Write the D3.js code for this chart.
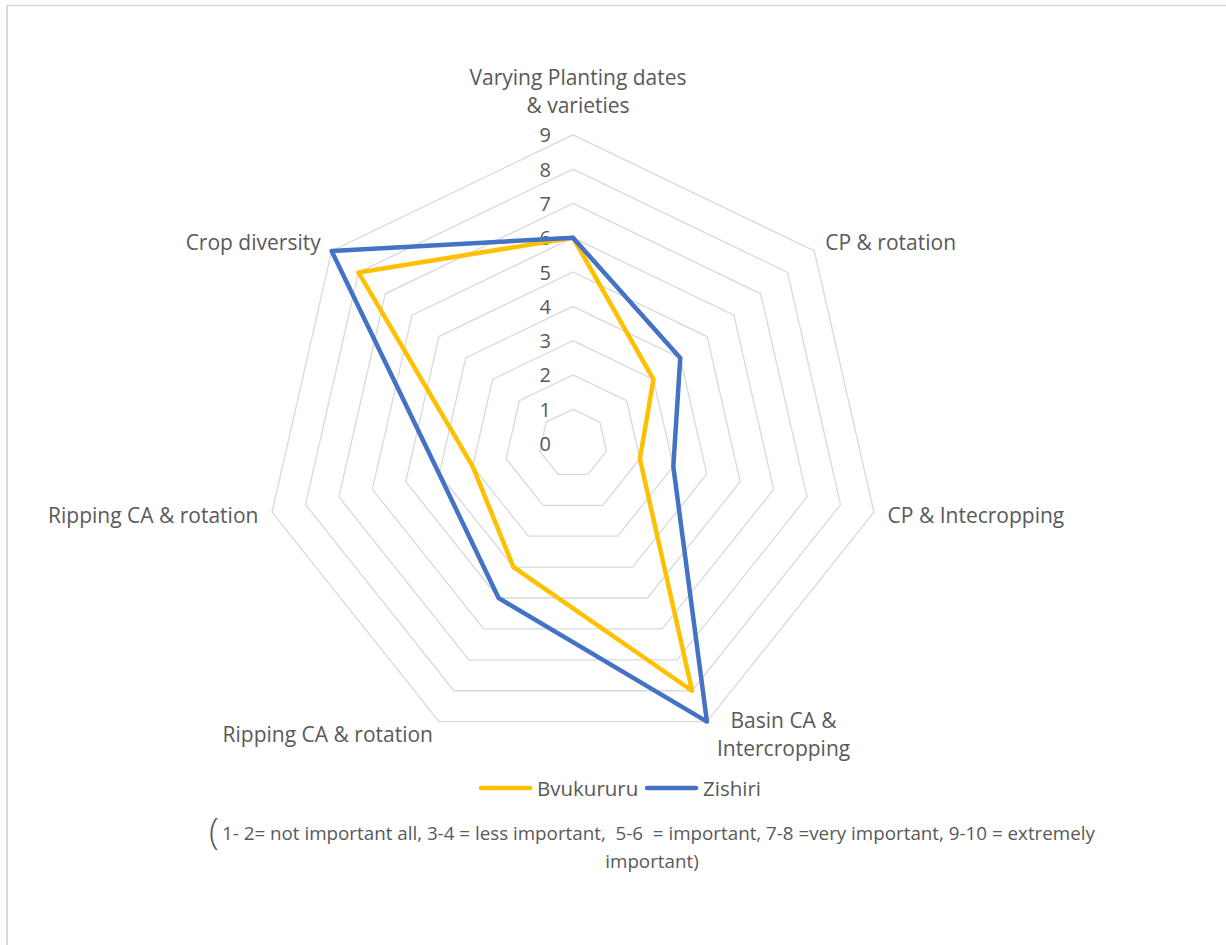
<!DOCTYPE html>
<html>
<head>
<meta charset="utf-8">
<script src="https://cdn.jsdelivr.net/npm/d3@7"></script>
<style>
  html, body { margin: 0; padding: 0; background: #fff; }
  svg text { font-family: "Open Sans", Lato, sans-serif; fill: #595959; white-space: pre; }
</style>
</head>
<body>
<svg id="chart" width="1226" height="945"></svg>
<script>
const categories = [
  ["Varying Planting dates", "& varieties"],
  ["CP & rotation"],
  ["CP & Intecropping"],
  ["Basin CA &", "Intercropping"],
  ["Ripping CA & rotation"],
  ["Ripping CA & rotation"],
  ["Crop diversity"]
];
const seriesNames = ["Bvukururu", "Zishiri"];
const bvukururu = [6, 3, 2, 8, 4, 3, 8];
const zishiri   = [6, 4, 3, 9, 5, 4, 9];
const tickValues = [0, 1, 2, 3, 4, 5, 6, 7, 8, 9];
const colors = ["#FFC000", "#4472C4"];
const footnote1 = "1- 2= not important all, 3-4 = less important,  5-6  = important, 7-8 =very important, 9-10 = extremely";
const footnote2 = "important)";

const labelSize = "21px", legendSize = "20.5px", footSize = "18.8px";

const svg = d3.select("#chart");
const cx = 573, cy = 443.5, R = 308.7;
const n = categories.length;
const r = d3.scaleLinear().domain([0, 9]).range([0, R]);
const angle = d3.scaleLinear().domain([0, n]).range([0, 2 * Math.PI]);

// frame
svg.append("line").attr("x1", 6).attr("x2", 1226).attr("y1", 5.5).attr("y2", 5.5)
  .attr("stroke", "#d9d9d9").attr("stroke-width", 1.5);
svg.append("line").attr("x1", 7).attr("x2", 7).attr("y1", 5).attr("y2", 945)
  .attr("stroke", "#d9d9d9").attr("stroke-width", 2);

const g = svg.append("g").attr("transform", `translate(${cx},${cy})`);

const pt = (v, i) => [r(v) * Math.sin(angle(i)), -r(v) * Math.cos(angle(i))];

// grid rings
const ringLine = d3.lineRadial().angle((d, i) => angle(i)).radius(d => r(d)).curve(d3.curveLinearClosed);
g.selectAll("path.ring").data(tickValues.filter(v => v > 0)).join("path")
  .attr("class", "ring")
  .attr("d", v => ringLine(d3.range(n).map(() => v)))
  .attr("fill", "none").attr("stroke", "#d9d9d9").attr("stroke-width", 1.3);

// tick labels
g.selectAll("text.tick").data(tickValues).join("text")
  .attr("class", "tick")
  .attr("x", -22).attr("y", v => -r(v))
  .attr("text-anchor", "end").attr("dominant-baseline", "central")
  .style("font-size", "20px")
  .text(v => v);

// series
const seriesLine = d3.lineRadial().angle((d, i) => angle(i)).radius(d => r(d)).curve(d3.curveLinearClosed);
[bvukururu, zishiri].forEach((s, k) => {
  g.append("path").attr("d", seriesLine(s))
    .attr("fill", "none").attr("stroke", colors[k]).attr("stroke-width", 4.5)
    .attr("stroke-linejoin", "round");
});

// category labels
const pad = 14, lh = 28;
categories.forEach((lines, i) => {
  const a = angle(i), s = Math.sin(a), c = Math.cos(a);
  const [vx, vy] = pt(9, i);
  const ax = vx + pad * s, ay = vy - pad * c;
  const t = g.append("text").style("font-size", labelSize);
  if (Math.abs(s) < 0.1) {
    lines.forEach((l, j) => {
      t.append("tspan").attr("x", ax + 5).attr("y", ay - 2 - (lines.length - 1 - j) * lh - 14)
        .attr("text-anchor", "middle").attr("dominant-baseline", "central").text(l);
    });
  } else if (lines.length > 1) {
    const tmp = lines.map(l => {
      const tt = g.append("text").style("font-size", labelSize).text(l);
      const w = tt.node().getComputedTextLength(); tt.remove(); return w;
    });
    const bw = d3.max(tmp);
    const bx = s > 0 ? ax + 4 : ax - 4 - bw;
    lines.forEach((l, j) => {
      t.append("tspan").attr("x", bx + bw / 2).attr("y", ay + (j - (lines.length - 1) / 2) * lh)
        .attr("text-anchor", "middle").attr("dominant-baseline", "central").text(l);
    });
  } else {
    t.append("tspan").attr("x", ax).attr("y", ay)
      .attr("text-anchor", s > 0 ? "start" : "end").attr("dominant-baseline", "central").text(lines[0]);
  }
});

// legend
const legend = svg.append("g").attr("transform", "translate(0,788)");
const legX = [479, 645];
seriesNames.forEach((name, k) => {
  legend.append("line").attr("x1", legX[k] + 2).attr("x2", legX[k] + 51).attr("y1", 0).attr("y2", 0)
    .attr("stroke", colors[k]).attr("stroke-width", 4.5).attr("stroke-linecap", "round");
  legend.append("text").attr("x", legX[k] + 58).attr("y", 0).attr("dominant-baseline", "central")
    .style("font-size", legendSize).text(name);
});

// footnote
svg.append("text").attr("x", 209).attr("y", 830).attr("dominant-baseline", "central")
  .style("font-size", "36px").style("font-weight", "300").text("(");
svg.append("text").attr("x", 222).attr("y", 833).attr("dominant-baseline", "central")
  .style("font-size", footSize).text(footnote1);
svg.append("text").attr("x", 652).attr("y", 861).attr("text-anchor", "middle").attr("dominant-baseline", "central")
  .style("font-size", footSize).text(footnote2);
</script>
</body>
</html>
